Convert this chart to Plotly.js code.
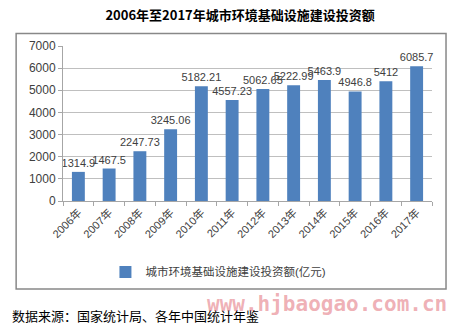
<!DOCTYPE html>
<html>
<head>
<meta charset="utf-8">
<script src="https://cdn.plot.ly/plotly-3.0.1.min.js"></script>
<style>html,body{margin:0;padding:0;background:#fff;}#chart{width:454px;height:331px;}</style>
</head>
<body>
<div id="chart"></div>
<script>
const years = ["2006年","2007年","2008年","2009年","2010年","2011年","2012年","2013年","2014年","2015年","2016年","2017年"];
const invest = [1314.9, 1467.5, 2247.73, 3245.06, 5182.21, 4557.23, 5062.65, 5222.99, 5463.9, 4946.8, 5412, 6085.7];
const seriesName = "城市环境基础设施建设投资额(亿元)";
const titleText = "2006年至2017年城市环境基础设施建设投资额";
const sourceText = "数据来源：国家统计局、各年中国统计年鉴";
const watermark = "www.hjbaogao.com.cn";

const cjk = "Liberation Sans, Noto Sans CJK SC, sans-serif";

const trace = {
  type: "bar",
  x: years,
  y: invest,
  name: seriesName,
  marker: {color: "#4F81BD"},
  text: invest.map(String),
  textposition: "outside",
  constraintext: "none",
  cliponaxis: false,
  textfont: {family: cjk, size: 11, color: "#404040"},
  showlegend: true
};

const layout = {
  width: 454, height: 331,
  margin: {l: 63, r: 22, t: 45.5, b: 129.5},
  paper_bgcolor: "#fff", plot_bgcolor: "#fff",
  bargap: 0.58,
  font: {family: cjk, color: "#404040"},
  title: {text: titleText, x: 0.48, xref: "paper", xanchor: "center", y: 1 - 15/331, yref: "container", yanchor: "middle",
          font: {family: "Noto Sans CJK SC, sans-serif", size: 13, color: "#000", weight: "bold"}},
  xaxis: {
    type: "category",
    tickangle: -45,
    tickson: "boundaries",
    ticks: "outside", ticklen: 4, tickcolor: "#a6a6a6",
    showline: true, linecolor: "#a6a6a6", linewidth: 1,
    showgrid: false,
    tickfont: {family: cjk, size: 11, color: "#404040"}
  },
  yaxis: {
    range: [0, 7000], dtick: 1000,
    ticks: "outside", ticklen: 4, tickcolor: "#a6a6a6",
    showline: true, linecolor: "#a6a6a6", linewidth: 1,
    showgrid: true, gridcolor: "#bfbfbf", gridwidth: 1,
    zeroline: false,
    tickfont: {family: cjk, size: 12, color: "#404040"}
  },
  legend: {orientation: "h", x: 0.115, xanchor: "left", y: -0.458, yanchor: "middle",
           font: {family: cjk, size: 11.5, color: "#404040"}, itemwidth: 30},
  shapes: [{type: "rect", xref: "paper", yref: "paper", x0: -0.127, x1: 1.038, y0: -0.567, y1: 1.080,
            line: {color: "#888", width: 1.5}, fillcolor: "rgba(0,0,0,0)", layer: "below"}],
  annotations: [
    {text: sourceText, xref: "paper", yref: "paper", x: (10-63)/369, xanchor: "left", y: (201.5-317)/156, yanchor: "middle",
     showarrow: false, font: {family: "Noto Sans CJK SC, sans-serif", size: 13, color: "#000"}},
    {text: watermark, xref: "paper", yref: "paper", x: (205-63)/369, xanchor: "left", y: (201.5-305)/156, yanchor: "middle",
     showarrow: false, font: {family: "DejaVu Sans Mono, monospace", size: 21, color: "rgba(225,110,120,0.55)", weight: "bold"}}
  ]
};

Plotly.newPlot("chart", [trace], layout, {displayModeBar: false, staticPlot: true});
</script>
</body>
</html>
